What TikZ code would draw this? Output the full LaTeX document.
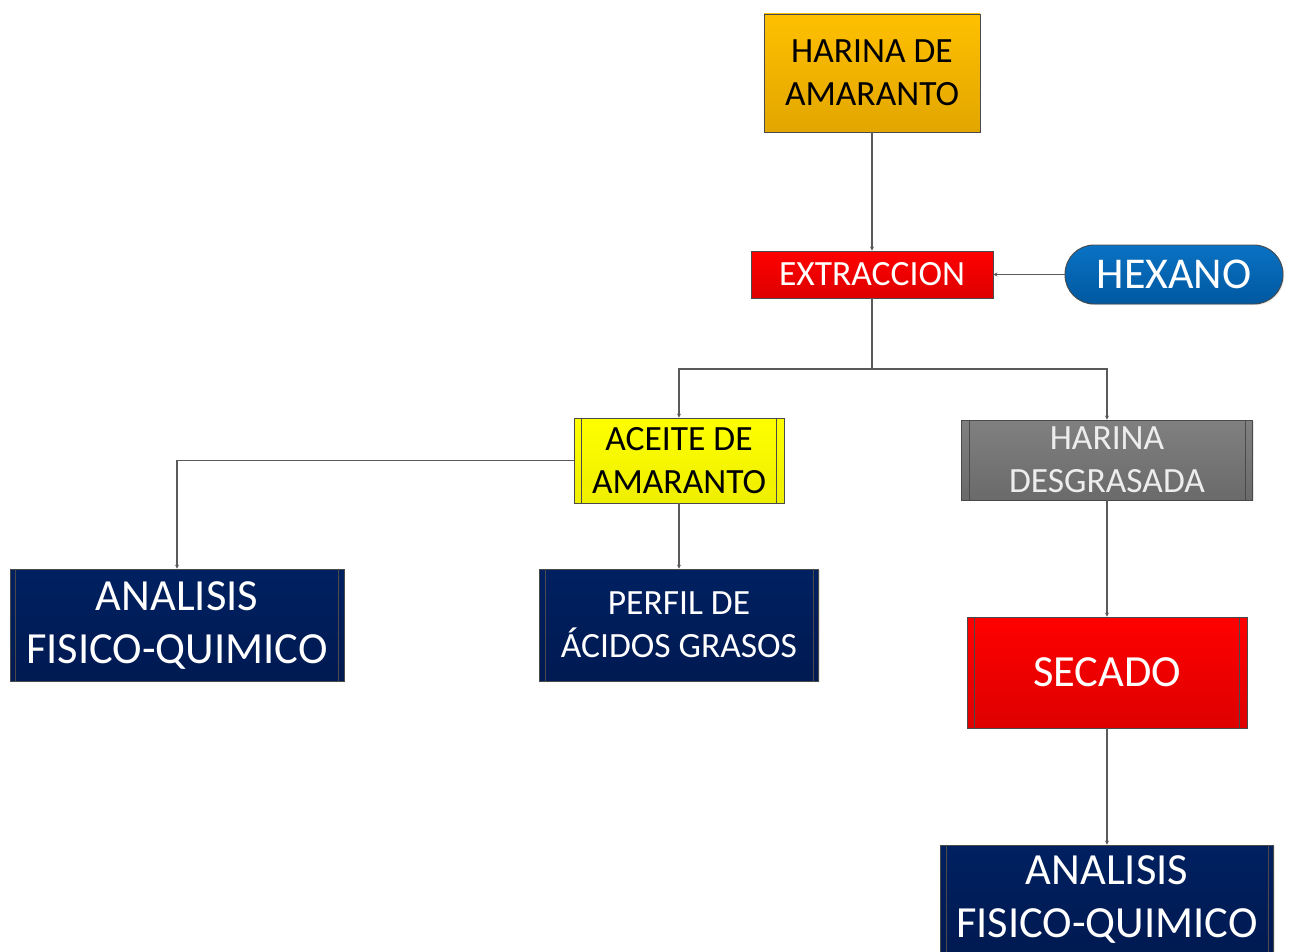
\documentclass[tikz,border=0pt]{standalone}
\usepackage{fontspec}
\setmainfont{Carlito}
\usetikzlibrary{arrows.meta,shadows}

\definecolor{edgegray}{HTML}{4A4A4A}
\definecolor{linkgray}{HTML}{5A5A5A}
\definecolor{ambertop}{HTML}{FFC000}
\definecolor{amberbot}{HTML}{E2A600}
\definecolor{redtop}{HTML}{FF0000}
\definecolor{redbot}{HTML}{DD0000}
\definecolor{bluetop}{HTML}{0A72C4}
\definecolor{bluebot}{HTML}{0058A0}
\definecolor{yellowtop}{HTML}{FFFF00}
\definecolor{yellowbot}{HTML}{EEEE00}
\definecolor{graytop}{HTML}{808080}
\definecolor{graybot}{HTML}{6A6A6A}
\definecolor{navy}{HTML}{002060}
\definecolor{navybot}{HTML}{001A52}
\definecolor{lighttext}{HTML}{EDEDED}

\tikzset{
  box/.style={draw=edgegray, line width=0.9pt, inner sep=0pt, align=center,
    drop shadow={shadow xshift=1.2pt, shadow yshift=-1.2pt, opacity=0.2}},
  midtext/.style={font=\fontsize{35.5}{43}\selectfont},
  bigtext/.style={font=\fontsize{44.5}{53}\selectfont},
  amberbox/.style={box, midtext, top color=ambertop, bottom color=amberbot, text=black},
  redbox/.style={box, top color=redtop, bottom color=redbot, text=white},
  yellowbox/.style={box, midtext, top color=yellowtop, bottom color=yellowbot, text=black},
  graybox/.style={box, midtext, top color=graytop, bottom color=graybot, text=lighttext},
  navybox/.style={box, top color=navy, bottom color=navybot, text=white},
  pill/.style={box, rounded corners=29pt, top color=bluetop, bottom color=bluebot,
    text=white, font=\fontsize{44}{53}\selectfont},
  sidebar/.style={draw=edgegray, line width=0.9pt},
  link/.style={draw=linkgray, line width=1.2pt, -{Stealth[length=4pt,width=4pt]}},
  trunk/.style={draw=linkgray, line width=1.2pt},
}

% side bars of a "predefined process" box
\newcommand{\sidebars}[2]{%
  \draw[sidebar] ([xshift=#2]#1.north west) -- ([xshift=#2]#1.south west);
  \draw[sidebar] ([xshift=-#2]#1.north east) -- ([xshift=-#2]#1.south east);}

\begin{document}
\begin{tikzpicture}[x=1pt,y=-1pt]
\useasboundingbox (0,0) rectangle (1290,952);
\clip (0,0) rectangle (1290,952);

% boxes
\node[amberbox, minimum width=216pt, minimum height=118pt] (harina) at (872,73) {HARINA DE\\AMARANTO};
\node[redbox, midtext, minimum width=242pt, minimum height=47pt] (extr) at (872,274.5) {EXTRACCION};
\node[pill, minimum width=218pt, minimum height=59pt] (hex) at (1174,274.5) {HEXANO};

\node[yellowbox, minimum width=210pt, minimum height=85pt] (aceite) at (679,460.5) {ACEITE DE\\AMARANTO};
\sidebars{aceite}{8pt}
\node[graybox, minimum width=291pt, minimum height=80pt] (desg) at (1107,460) {HARINA\\DESGRASADA};
\sidebars{desg}{8pt}

\node[navybox, bigtext, minimum width=334pt, minimum height=112pt] (fq1) at (177,625) {ANALISIS\\FISICO-QUIMICO};
\sidebars{fq1}{6pt}
\node[navybox, midtext, minimum width=279pt, minimum height=112pt] (perfil) at (679,625) {PERFIL DE\\ÁCIDOS GRASOS};
\sidebars{perfil}{6pt}

\node[redbox, bigtext, minimum width=280pt, minimum height=111pt] (secado) at (1107,672.5) {SECADO};
\sidebars{secado}{8pt}

\node[navybox, bigtext, minimum width=333pt, minimum height=108pt] (fq2) at (1107,899) {ANALISIS\\FISICO-QUIMICO};
\sidebars{fq2}{6pt}

% connectors
\coordinate (split) at (872,369);
\draw[link] (harina.south) -- (extr.north);
\draw[link] (hex.west) -- (extr.east);
\draw[trunk, line width=2pt] (extr.south) -- (split);
\draw[link] (split) -| (aceite.north);
\draw[link] (split) -| (desg.north);
\draw[link] (aceite.west) -| (fq1.north);
\draw[link] (aceite.south) -- (perfil.north);
\draw[link] (desg.south) -- (secado.north);
\draw[link] (secado.south) -- (fq2.north);
\end{tikzpicture}
\end{document}
